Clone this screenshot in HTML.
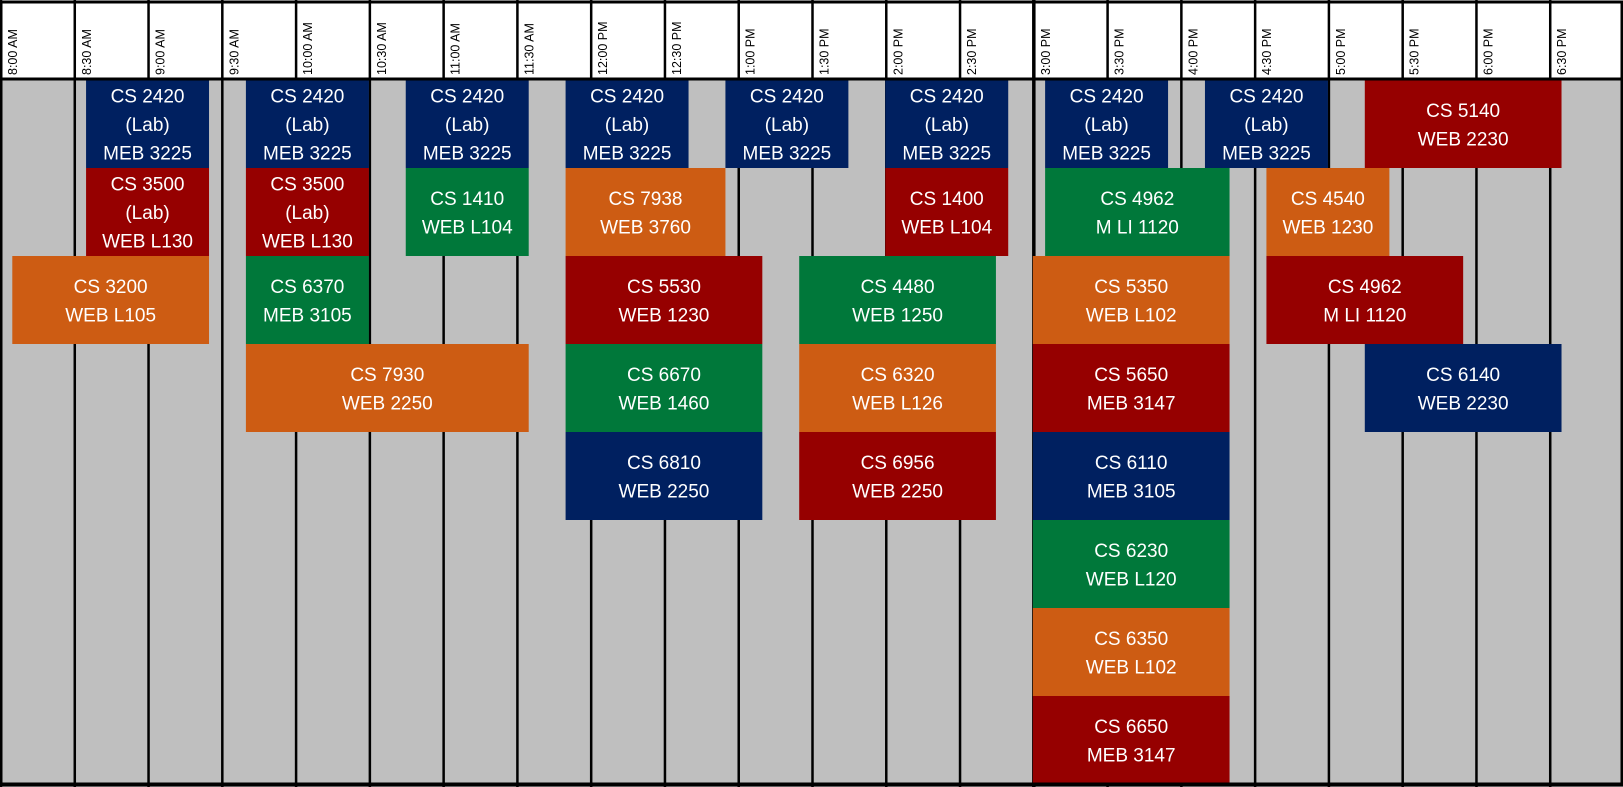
<!DOCTYPE html>
<html><head><meta charset="utf-8"><style>
html,body{margin:0;padding:0;background:#fff;}
svg{display:block;}
text{font-family:"Liberation Sans",sans-serif;}
</style></head><body>
<svg id="chart" width="1623" height="787" viewBox="0 0 1623 787" xmlns="http://www.w3.org/2000/svg"></svg>
<script>
const timeLabels = ["8:00 AM","8:30 AM","9:00 AM","9:30 AM","10:00 AM","10:30 AM","11:00 AM","11:30 AM","12:00 PM","12:30 PM","1:00 PM","1:30 PM","2:00 PM","2:30 PM","3:00 PM","3:30 PM","4:00 PM","4:30 PM","5:00 PM","5:30 PM","6:00 PM","6:30 PM"];
const courses = ["CS 2420","CS 2420","CS 2420","CS 2420","CS 2420","CS 2420","CS 2420","CS 2420","CS 5140",
 "CS 3500","CS 3500","CS 1410","CS 7938","CS 1400","CS 4962","CS 4540",
 "CS 3200","CS 6370","CS 5530","CS 4480","CS 5350","CS 4962",
 "CS 7930","CS 6670","CS 6320","CS 5650","CS 6140",
 "CS 6810","CS 6956","CS 6110","CS 6230","CS 6350","CS 6650"];
const notes = ["(Lab)","(Lab)","(Lab)","(Lab)","(Lab)","(Lab)","(Lab)","(Lab)","",
 "(Lab)","(Lab)","","","","","",
 "","","","","","",
 "","","","","",
 "","","","","",""];
const rooms = ["MEB 3225","MEB 3225","MEB 3225","MEB 3225","MEB 3225","MEB 3225","MEB 3225","MEB 3225","WEB 2230",
 "WEB L130","WEB L130","WEB L104","WEB 3760","WEB L104","M LI 1120","WEB 1230",
 "WEB L105","MEB 3105","WEB 1230","WEB 1250","WEB L102","M LI 1120",
 "WEB 2250","WEB 1460","WEB L126","MEB 3147","WEB 2230",
 "WEB 2250","WEB 2250","MEB 3105","WEB L120","WEB L102","MEB 3147"];
// minutes after 8:00 AM
const startMin = [35,100,165,230,295,360,425,490,555, 35,100,165,230,360,425,515, 5,100,230,325,420,515, 100,230,325,420,555, 230,325,420,420,420,420];
const endMin   = [85,150,215,280,345,410,475,540,635, 85,150,215,295,410,500,565, 85,150,310,405,500,595, 215,310,405,500,635, 310,405,500,500,500,500];
const rowIdx   = [0,0,0,0,0,0,0,0,0, 1,1,1,1,1,1,1, 2,2,2,2,2,2, 3,3,3,3,3, 4,4,4,5,6,7];
const colorKey = ["n","n","n","n","n","n","n","n","r", "r","r","g","o","r","g","o", "o","g","r","g","o","r", "o","g","o","r","n", "n","r","n","g","o","r"];

const COLORS = {n:"#002060", r:"#960000", g:"#00783A", o:"#CD5C13"};
const W = 1623, colW = W/22, bodyTop = 80, rowH = 88, bottom = 783;
const xScale = m => m/30*colW;
const yScale = r => bodyTop + r*rowH;
const NS = "http://www.w3.org/2000/svg";
const svg = document.getElementById("chart");
function mk(tag, attrs){const e=document.createElementNS(NS,tag);for(const k in attrs)e.setAttribute(k,attrs[k]);svg.appendChild(e);return e;}

const hdr = mk("rect",{x:0,y:0,width:W,height:80,fill:"#fff"});


const body = mk("rect",{x:0,y:80,width:W,height:707,fill:"#BFBFBF"});



timeLabels.forEach((t,i)=>{
  const x = xScale(i*30);
  const ln = mk("line",{x1:x+1,y1:0,x2:x+1,y2:787,stroke:"#000","stroke-width":(i===14?3.5:2.5)});
  
  
  const tx = mk("text",{x:0,y:0,transform:`translate(${x+17},75) rotate(-90)`,"font-size":"12.5",fill:"#000"});
  tx.textContent = t;
  
  
});

courses.forEach((c,i)=>{
  const x0 = xScale(startMin[i]), x1 = xScale(endMin[i]), y = yScale(rowIdx[i]);
  const g = document.createElementNS(NS,"g"); svg.appendChild(g);
  
  
  const r = document.createElementNS(NS,"rect");
  r.setAttribute("x",x0);r.setAttribute("y",y);r.setAttribute("width",x1-x0);r.setAttribute("height",rowH);r.setAttribute("fill",COLORS[colorKey[i]]);
  g.appendChild(r);
  const lines = notes[i] ? [c,notes[i],rooms[i]] : [c,rooms[i]];
  const cx = (x0+x1)/2, cy = y+rowH/2, lh = 28.5;
  lines.forEach((s,j)=>{
    const t = document.createElementNS(NS,"text");
    t.setAttribute("x",cx);
    t.setAttribute("y",cy + (j-(lines.length-1)/2)*lh + 7);
    t.setAttribute("text-anchor","middle");t.setAttribute("font-size","19");t.setAttribute("fill","#fff");
    t.textContent = s;
    g.appendChild(t);
  });
});

const b1 = mk("rect",{x:1,y:2,width:W-2,height:783,fill:"none",stroke:"#000","stroke-width":3});


const hl = mk("line",{x1:0,y1:79,x2:W,y2:79,stroke:"#000","stroke-width":3});


const bl = mk("line",{x1:0,y1:784.5,x2:W,y2:784.5,stroke:"#000","stroke-width":4});


</script>
</body></html>
